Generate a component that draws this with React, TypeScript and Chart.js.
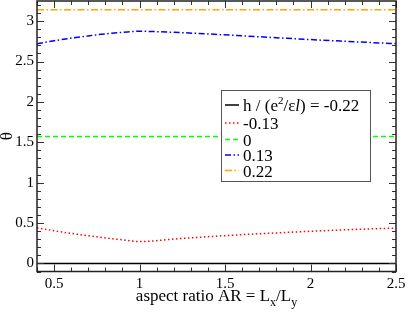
import React, { useEffect, useRef } from 'react';
import { Chart, registerables } from 'chart.js';

Chart.register(...registerables);

const FONT = '"Liberation Serif", "Times New Roman", serif';
Chart.defaults.font.family = FONT;
Chart.defaults.font.size = 15;
Chart.defaults.color = '#000';

// aspect ratio AR values
const arValues = [0.4, 0.5, 0.6, 0.7, 0.8, 0.9, 1.0, 1.2, 1.4, 1.6, 1.8, 2.0, 2.2, 2.4, 2.5];
// theta for each h
const thetaM022 = [0, 0, 0, 0, 0, 0, 0, 0, 0, 0, 0, 0, 0, 0, 0];
const thetaM013 = [0.44, 0.405, 0.372, 0.343, 0.316, 0.292, 0.27, 0.302, 0.331, 0.356, 0.378, 0.398, 0.416, 0.431, 0.438];
const theta0 = [1.5708, 1.5708, 1.5708, 1.5708, 1.5708, 1.5708, 1.5708, 1.5708, 1.5708, 1.5708, 1.5708, 1.5708, 1.5708, 1.5708, 1.5708];
const thetaP013 = [2.72, 2.758, 2.79, 2.818, 2.843, 2.861, 2.875, 2.862, 2.842, 2.819, 2.795, 2.772, 2.751, 2.731, 2.722];
const thetaP022 = [3.1416, 3.1416, 3.1416, 3.1416, 3.1416, 3.1416, 3.1416, 3.1416, 3.1416, 3.1416, 3.1416, 3.1416, 3.1416, 3.1416, 3.1416];

const seriesLabels = ['h / (e²/εl) = -0.22', '-0.13', '0', '0.13', '0.22'];
const seriesColors = ['#000000', '#ff0000', '#00ff00', '#0000ff', '#ffa500'];
const seriesDashes: number[][] = [[], [1.5, 2.5], [5, 3], [6, 2.5, 1.5, 2.5], [7, 2.5, 1.5, 2.5]];
const seriesValues = [thetaM022, thetaM013, theta0, thetaP013, thetaP022];

const xTickValues = [0.5, 1, 1.5, 2, 2.5];
const yTickValues = [0, 0.5, 1, 1.5, 2, 2.5, 3];

const framePlugin = {
  id: 'frameTicks',
  afterDatasetsDraw(chart: any) {
    const { ctx, chartArea, scales } = chart;
    const { left, right, top, bottom } = chartArea;
    const xs = scales.x;
    const ys = scales.y;
    ctx.save();
    ctx.strokeStyle = '#333';
    ctx.lineWidth = 1;
    ctx.beginPath();
    for (let i = 4; i <= 25; i++) {
      const px = Math.round(xs.getPixelForValue(i / 10)) + 0.5;
      const len = i % 5 === 0 ? 7 : 4;
      ctx.moveTo(px, bottom);
      ctx.lineTo(px, bottom - len);
      ctx.moveTo(px, top);
      ctx.lineTo(px, top + len);
    }
    for (let i = -1; i <= 32; i++) {
      const py = Math.round(ys.getPixelForValue(i / 10)) + 0.5;
      const len = i % 5 === 0 ? 7 : 4;
      ctx.moveTo(left, py);
      ctx.lineTo(left + len, py);
      ctx.moveTo(right, py);
      ctx.lineTo(right - len, py);
    }
    ctx.stroke();
    ctx.strokeStyle = '#222';
    ctx.lineWidth = 1.5;
    ctx.strokeRect(left, top, right - left, bottom - top);
    ctx.restore();
  },
  afterDraw(chart: any) {
    const { ctx, chartArea } = chart;
    ctx.save();
    // legend box
    const bx = 221.5, by = 90.5, bw = 149, bh = 91;
    ctx.fillStyle = '#ffffff';
    ctx.fillRect(bx, by, bw, bh);
    ctx.strokeStyle = '#555';
    ctx.lineWidth = 1;
    ctx.strokeRect(bx, by, bw, bh);
    const rowY = [105, 123, 139.5, 155, 170.5];
    ctx.textBaseline = 'alphabetic';
    ctx.fillStyle = '#000';
    for (let i = 0; i < seriesLabels.length; i++) {
      const y = rowY[i];
      ctx.strokeStyle = seriesColors[i];
      ctx.lineWidth = 1.5;
      ctx.setLineDash(seriesDashes[i]);
      ctx.beginPath();
      ctx.moveTo(225, y);
      ctx.lineTo(239, y);
      ctx.stroke();
      ctx.setLineDash([]);
      const base = y + 6;
      let tx = 243;
      ctx.fillStyle = '#000';
      if (i === 0) {
        const segs: [string, string, number][] = [
          ['h / (e', '17px ' + FONT, 0],
          ['2', '11px ' + FONT, -7],
          ['/ε', '17px ' + FONT, 0],
          ['l', 'italic 17px ' + FONT, 0],
          [') = -0.22', '17px ' + FONT, 0],
        ];
        for (const [t, f, dy] of segs) {
          ctx.font = f;
          ctx.fillText(t, tx, base + dy);
          tx += ctx.measureText(t).width;
        }
      } else {
        ctx.font = '17px ' + FONT;
        ctx.fillText(seriesLabels[i], tx, base);
      }
    }
    // x axis title
    const segs: [string, string, number][] = [
      ['aspect ratio AR = L', '17px ' + FONT, 0],
      ['x', '12px ' + FONT, 5],
      ['/L', '17px ' + FONT, 0],
      ['y', '12px ' + FONT, 5],
    ];
    let total = 0;
    for (const [t, f] of segs) {
      ctx.font = f;
      total += ctx.measureText(t).width;
    }
    let tx = (chartArea.left + chartArea.right) / 2 - total / 2;
    for (const [t, f, dy] of segs) {
      ctx.font = f;
      ctx.fillText(t, tx, 301 + dy);
      tx += ctx.measureText(t).width;
    }
    // y axis title
    ctx.translate(8, (chartArea.top + chartArea.bottom) / 2);
    ctx.rotate(-Math.PI / 2);
    ctx.font = '17px ' + FONT;
    ctx.textAlign = 'center';
    ctx.textBaseline = 'middle';
    ctx.fillText('θ', 0, 0);
    ctx.restore();
  },
};

export default function App() {
  const canvasRef = useRef<HTMLCanvasElement | null>(null);
  useEffect(() => {
    if (!canvasRef.current) return;
    const chart = new Chart(canvasRef.current, {
      type: 'line',
      data: {
        datasets: seriesValues.map((vals, i) => ({
          label: seriesLabels[i],
          data: arValues.map((x, j) => ({ x, y: vals[j] })),
          borderColor: seriesColors[i],
          borderDash: seriesDashes[i],
          borderWidth: 1.5,
          pointRadius: 0,
          fill: false,
          cubicInterpolationMode: 'monotone' as const,
        })),
      },
      options: {
        animation: false,
        responsive: true,
        maintainAspectRatio: false,
        layout: { padding: { top: 1, right: 11, left: 0, bottom: 0 } },
        plugins: { legend: { display: false }, tooltip: { enabled: false } },
        scales: {
          x: {
            type: 'linear',
            min: 0.4,
            max: 2.5,
            grid: { display: false, drawTicks: false },
            border: { display: false },
            afterBuildTicks: (s: any) => { s.ticks = xTickValues.map((v) => ({ value: v })); },
            afterFit: (s: any) => {
              s.height = 41.5;
              s.paddingLeft = 0;
              s.paddingRight = 0;
              s.paddingTop = 0;
              s.paddingBottom = 0;
            },
            ticks: {
              padding: 4,
              maxRotation: 0,
              autoSkip: false,
              color: '#000',
              font: { family: FONT, size: 15 },
              callback: (v: any) => String(v),
            },
          },
          y: {
            type: 'linear',
            min: -0.1,
            max: 3.25,
            grid: { display: false, drawTicks: false },
            border: { display: false },
            afterBuildTicks: (s: any) => { s.ticks = yTickValues.map((v) => ({ value: v })); },
            afterFit: (s: any) => {
              s.width = 37;
              s.paddingLeft = 0;
              s.paddingRight = 0;
              s.paddingTop = 0;
              s.paddingBottom = 0;
            },
            ticks: {
              padding: 3,
              autoSkip: false,
              color: '#000',
              font: { family: FONT, size: 15 },
              callback: (v: any) => String(v),
            },
          },
        },
      },
      plugins: [framePlugin],
    });
    return () => chart.destroy();
  }, []);
  return (
    <div style={{ position: 'absolute', left: 0, top: 0, width: 407, height: 313 }}>
      <canvas ref={canvasRef} />
    </div>
  );
}
